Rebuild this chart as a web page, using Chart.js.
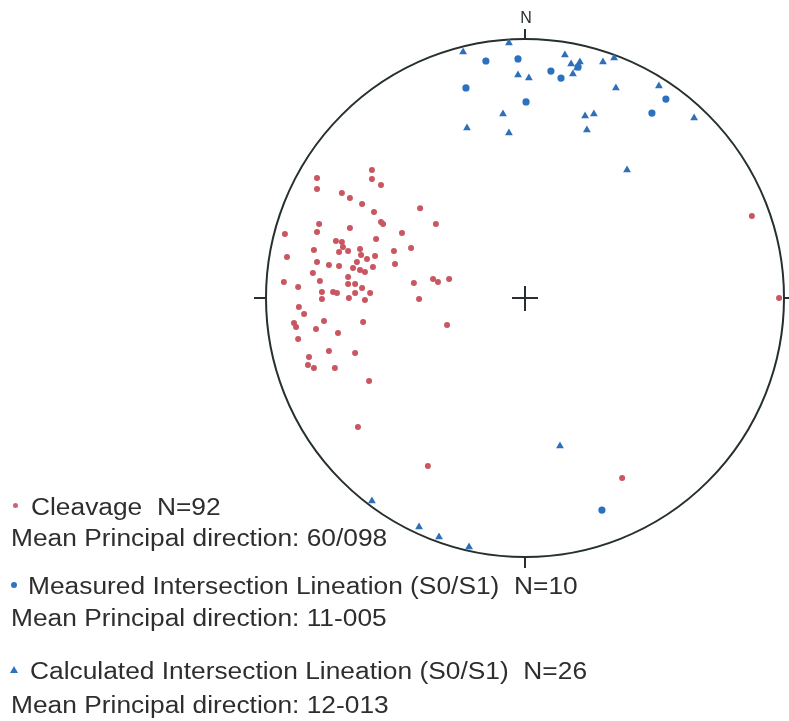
<!DOCTYPE html>
<html>
<head>
<meta charset="utf-8">
<script src="https://cdn.jsdelivr.net/npm/chart.js@4.4.1/dist/chart.umd.min.js"></script>
<style>
  html, body { margin: 0; padding: 0; background: #ffffff; }
  #wrap { position: relative; width: 789px; height: 721px; }
  #stereoChart { position: absolute; left: 0; top: 0; }
  .legend-line {
    position: absolute;
    font-family: "Liberation Sans", Arial, sans-serif;
    font-size: 23px;
    line-height: 23px;
    color: #2e2e2e;
    white-space: pre;
    transform: scaleX(1.145);
    transform-origin: 0 0;
  }
  .mark { position: absolute; }
  .mark.red-dot { width: 5px; height: 5px; border-radius: 50%; background: #d0646e; }
  .mark.blue-dot { width: 6px; height: 6px; border-radius: 50%; background: #2f74c0; }
  .mark.blue-tri { width: 0; height: 0; border-left: 4px solid transparent; border-right: 4px solid transparent; border-bottom: 7px solid #2f74c0; }
</style>
</head>
<body>
<div id="wrap">
  <canvas id="stereoChart" width="789" height="721"></canvas>

  <div class="mark red-dot" style="left:12.5px; top:502.5px;"></div>
  <div class="legend-line" style="left:30.5px; top:496px;">Cleavage  N=92</div>
  <div class="legend-line" style="left:11px; top:527px;">Mean Principal direction: 60/098</div>

  <div class="mark blue-dot" style="left:11px; top:582px;"></div>
  <div class="legend-line" style="left:28px; top:575px;">Measured Intersection Lineation (S0/S1)  N=10</div>
  <div class="legend-line" style="left:11px; top:607px;">Mean Principal direction: 11-005</div>

  <div class="mark blue-tri" style="left:10px; top:666px;"></div>
  <div class="legend-line" style="left:29.5px; top:659.5px;">Calculated Intersection Lineation (S0/S1)  N=26</div>
  <div class="legend-line" style="left:11px; top:694px;">Mean Principal direction: 12-013</div>
</div>

<script>
// projected positions on the net, primitive circle radius = 100
const cleavageX = [
  -59.1, -80.3, -59.1, -55.6, -80.3, -70.7, -67.6, -62.9, -40.5, -58.3,
  -55.6, -54.8, -34.4, -79.5, -67.6, -80.3, -92.7, -47.5, -57.5, -73.0,
  -70.7, -70.3, -71.8, -68.3, -81.5, -63.7, -44.0, -50.6, -91.9, -63.3,
  -61.0, -57.9, -64.9, -80.3, -75.7, -71.8, -66.4, -50.2, -58.7, -63.7,
  -61.8, -81.9, -68.3, -79.2, -93.1, -87.6, -68.3, -65.6, -62.9, -42.9,
  -35.5, -33.6, -29.3, -78.4, -74.1, -72.6, -65.6, -59.8, -78.4, -68.0,
  -61.8, -40.9, -87.3, -85.3, -89.2, -88.4, -77.6, -62.5, -80.7, -72.2,
  -30.1, -87.6, -75.7, -65.6, -83.4, -83.8, -81.5, -73.4, -60.2, -64.5,
  -37.5, 37.5, 87.6, 98.1
];
const cleavageY = [
  49.4, 46.3, 45.9, 43.6, 42.1, 40.5, 38.6, 36.3, 34.7, 33.2,
  29.3, 28.6, 28.6, 28.6, 27.0, 25.5, 24.7, 25.1, 22.8, 22.0,
  21.6, 19.7, 17.8, 18.1, 18.5, 18.9, 19.3, 18.1, 15.8, 16.6,
  15.1, 16.2, 13.9, 13.9, 12.7, 12.4, 11.6, 13.1, 12.0, 10.8,
  10.0, 9.7, 8.1, 6.6, 6.2, 4.2, 5.4, 5.4, 3.9, 5.8,
  7.3, 6.2, 7.3, 2.3, 2.3, 1.9, 1.9, 1.9, -0.4, 0.0,
  -0.8, -0.4, -3.5, -6.2, -9.7, -11.2, -8.9, -9.3, -12.0, -13.5,
  -10.4, -15.8, -20.5, -21.2, -22.8, -25.9, -27.0, -27.0, -32.0, -49.8,
  -64.9, -69.5, 31.7, 0.0
];

const measuredX = [-15.1, -2.7, 10.0, 13.9, -22.8, 0.4, 54.4, 49.0, 29.7, 20.5];
const measuredY = [91.5, 92.3, 87.6, 84.9, 81.1, 75.7, 76.8, 71.4, -81.9, 89.2];

const calculatedX = [
  -23.9, -6.2, 15.4, 21.2, 20.1, 18.5, 17.8, 30.1, 34.4, -2.7,
  1.5, 35.1, 51.7, -8.5, 23.2, 26.6, -22.4, -6.2, 23.9, 65.3,
  39.4, 13.5, -59.1, -40.9, -33.2, -21.6
];
const calculatedY = [
  95.0, 98.5, 93.8, 91.1, 88.8, 86.5, 90.3, 91.1, 92.7, 86.1,
  84.9, 81.1, 81.9, 71.0, 70.3, 71.0, 65.6, 63.7, 64.9, 69.5,
  49.4, -57.1, -78.4, -88.4, -92.3, -96.1
];

const northLabel = 'N';

document.addEventListener('DOMContentLoaded', function () {
    const chartCanvas = document.getElementById('stereoChart');

    function toPoints(xs, ys) {
        return xs.map((x, i) => ({ x: x, y: ys[i] }));
    }

    // primitive circle, ticks, centre cross and the N label
    const netPlugin = {
        id: 'net',
        beforeDatasetsDraw(chart) {
            const ctx = chart.ctx;
            const xs = chart.scales.x;
            const ys = chart.scales.y;
            const cx = xs.getPixelForValue(0);
            const cy = ys.getPixelForValue(0);
            const r = xs.getPixelForValue(100) - cx;

            ctx.save();
            ctx.strokeStyle = '#263030';
            ctx.lineWidth = 2;
            ctx.beginPath();
            ctx.arc(cx, cy, r, 0, Math.PI * 2);
            ctx.stroke();

            ctx.beginPath();
            // N, S, W, E ticks
            ctx.moveTo(cx, cy - r); ctx.lineTo(cx, cy - r - 10);
            ctx.moveTo(cx, cy + r); ctx.lineTo(cx, cy + r + 11);
            ctx.moveTo(cx - r, cy); ctx.lineTo(cx - r - 12, cy);
            ctx.moveTo(cx + r, cy); ctx.lineTo(cx + r + 12, cy);
            // centre cross
            ctx.moveTo(cx - 13, cy); ctx.lineTo(cx + 13, cy);
            ctx.moveTo(cx, cy - 12); ctx.lineTo(cx, cy + 13);
            ctx.stroke();

            ctx.fillStyle = '#263030';
            ctx.font = '16px "Liberation Sans", Arial, sans-serif';
            ctx.textAlign = 'center';
            ctx.textBaseline = 'bottom';
            ctx.fillText(northLabel, cx + 1, cy - r - 12);
            ctx.restore();
        }
    };

    new Chart(chartCanvas, {
        type: 'scatter',
        data: {
            datasets: [
                {
                    label: 'Cleavage',
                    data: toPoints(cleavageX, cleavageY),
                    pointStyle: 'circle',
                    pointRadius: 3,
                    backgroundColor: '#c95660',
                    borderColor: '#c95660',
                    borderWidth: 0,
                    clip: false
                },
                {
                    label: 'Measured Intersection Lineation (S0/S1)',
                    data: toPoints(measuredX, measuredY),
                    pointStyle: 'circle',
                    pointRadius: 3.6,
                    backgroundColor: '#2b71c0',
                    borderColor: '#2b71c0',
                    borderWidth: 0,
                    clip: false
                },
                {
                    label: 'Calculated Intersection Lineation (S0/S1)',
                    data: toPoints(calculatedX, calculatedY),
                    pointStyle: 'triangle',
                    pointRadius: 4.5,
                    backgroundColor: '#2d6fb8',
                    borderColor: '#2d6fb8',
                    borderWidth: 0,
                    clip: false
                }
            ]
        },
        options: {
            responsive: false,
            animation: false,
            layout: {
                padding: { left: 266, right: 5, top: 39, bottom: 164 }
            },
            scales: {
                x: { type: 'linear', min: -100, max: 100, display: false },
                y: { type: 'linear', min: -100, max: 100, display: false }
            },
            plugins: {
                legend: { display: false },
                tooltip: { enabled: false }
            }
        },
        plugins: [netPlugin]
    });
});
</script>
</body>
</html>
